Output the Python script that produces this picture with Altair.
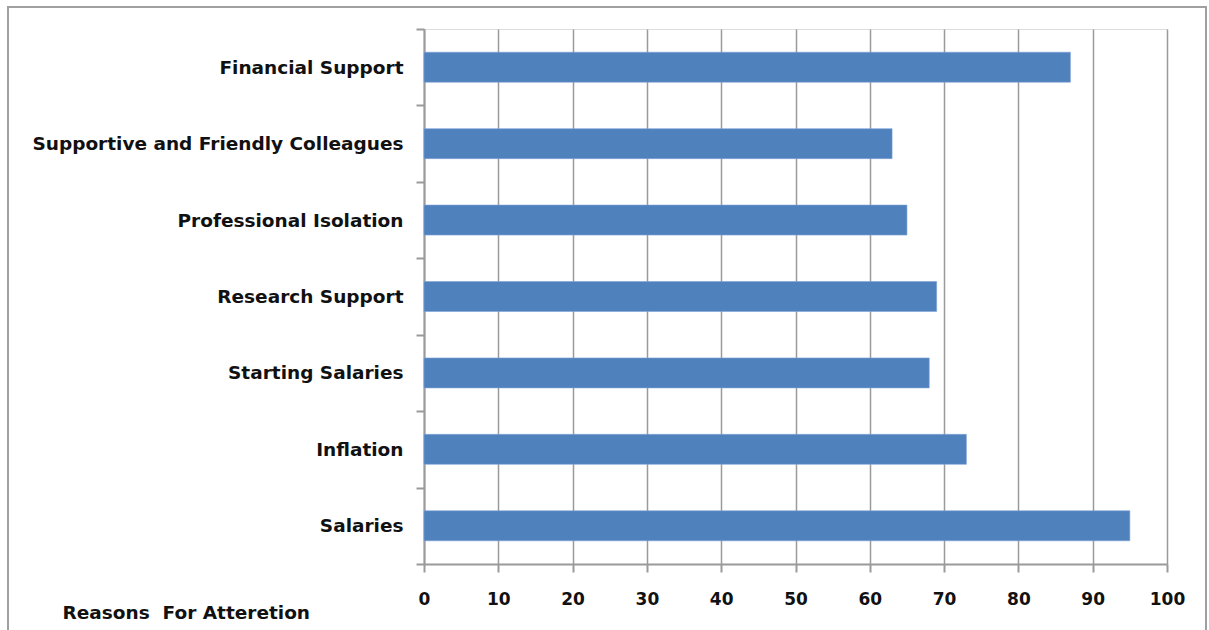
import altair as alt
import pandas as pd

categories = [
    "Financial Support\u2002",
    "Supportive and Friendly Colleagues",
    "Professional Isolation",
    "Research Support\u2002",
    "Starting Salaries",
    "Inflation",
    "Salaries",
]
values = [87, 63, 65, 69, 68, 73, 95]
x_ticks = [0, 10, 20, 30, 40, 50, 60, 70, 80, 90, 100]
category_title = "Reasons\u00a0 For Atteretion"

df = pd.DataFrame({"reason": categories, "value": values})

FONT = "DejaVu Sans"
GRAY = "#9a9a9a"
TXT = "#111111"

bars = alt.Chart(df).mark_bar(size=30, color="#4F81BD", stroke="#7fa3d6", strokeWidth=0.6).encode(
    x=alt.X(
        "value:Q",
        scale=alt.Scale(domain=[0, 100], nice=False, zero=True),
        axis=alt.Axis(
            values=x_ticks,
            title=None,
            grid=True,
            gridColor=GRAY,
            gridWidth=1.5,
            domainColor=GRAY,
            domainWidth=2,
            tickColor=GRAY,
            tickWidth=2,
            tickSize=8,
            labelFont=FONT,
            labelFontSize=17,
            labelFontWeight="bold",
            labelColor=TXT,
            labelPadding=19,
            labelFlush=False,
        ),
    ),
    y=alt.Y(
        "reason:N",
        sort=categories,
        scale=alt.Scale(paddingInner=0, paddingOuter=0),
        axis=alt.Axis(
            title=category_title,
            titleAngle=0,
            titleAlign="left",
            titleBaseline="middle",
            titleX=-362,
            titleY=583,
            titleFont=FONT,
            titleFontSize=18.5,
            titleFontWeight="bold",
            titleColor=TXT,
            tickBand="extent",
            grid=False,
            domainColor=GRAY,
            domainWidth=2,
            tickColor=GRAY,
            tickWidth=2,
            tickSize=8,
            labelFont=FONT,
            labelFontSize=18.5,
            labelFontWeight="bold",
            labelColor=TXT,
            labelPadding=13,
            labelLimit=0,
        ),
    ),
)

border = alt.Chart(df).mark_rect(fill=None, stroke="#a0a0a0", strokeWidth=2, clip=False).encode(
    x=alt.value(-416), x2=alt.value(782), y=alt.value(-22), y2=alt.value(640)
)

chart = alt.layer(bars, border).properties(
    width=743,
    height=535,
    autosize=alt.AutoSizeParams(type="none"),
    padding={"left": 424, "top": 29, "right": 42, "bottom": 66},
).configure_view(stroke=None).configure(background="white")

chart.save("out.html", embed_options={"renderer": "svg", "actions": False})
